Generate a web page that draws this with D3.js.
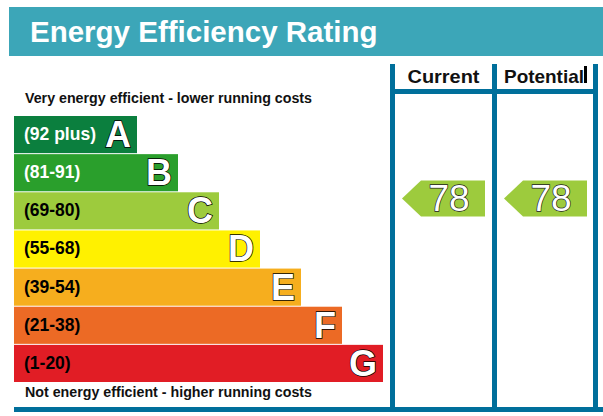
<!DOCTYPE html>
<html><head><meta charset="utf-8">
<script src="https://cdn.jsdelivr.net/npm/d3@7"></script>
<style>html,body{margin:0;padding:0;background:#fff;}svg{display:block;font-family:"Liberation Sans",Arial,sans-serif;}</style>
</head><body><svg id="c" width="603" height="416"></svg>
<script>
const bands = ["A","B","C","D","E","F","G"];
const ranges = ["(92 plus)","(81-91)","(69-80)","(55-68)","(39-54)","(21-38)","(1-20)"];
const lows = [92,81,69,55,39,21,1];
const highs = [100,91,80,68,54,38,20];
const colors = ["#0b7f3e","#2a9f2c","#9dcb3d","#fff100","#f6ae1e","#ec6a25","#e11d25"];
const labelColors = ["#fff","#fff","#000","#000","#000","#000","#000"];
const columns = ["Current","Potential"];
const ratings = [78,78];
const title = "Energy Efficiency Rating";
const topNote = "Very energy efficient - lower running costs";
const bottomNote = "Not energy efficient - higher running costs";

const svg = d3.select("#c");
const blue = "#006f9b";

// header
svg.append("rect").attr("x",9).attr("y",7).attr("width",594).attr("height",49).attr("fill","#3ca6b8");
svg.append("text").attr("x",30).attr("y",42).attr("fill","#fff").attr("font-weight","bold")
  .attr("font-size",29.5).text(title);

// band scale
const y = d3.scaleBand().domain(bands).range([116,382]).paddingInner(1/38).paddingOuter(0);
const w = d3.scaleLinear().domain([0,6]).range([123,369]);
const x0 = 14;

const rows = svg.append("g").selectAll("g").data(bands).join("g");
rows.append("rect").attr("x",x0).attr("y",d=>y(d)).attr("height",y.bandwidth())
  .attr("width",(d,i)=>w(i)).attr("fill",(d,i)=>colors[i]);
rows.append("text").attr("x",24).attr("y",d=>y(d)+24)
  .attr("font-size",17.5).attr("font-weight","bold").attr("fill",(d,i)=>labelColors[i])
  .text((d,i)=>ranges[i]);
rows.append("text").attr("x",(d,i)=>x0+w(i)-6).attr("y",d=>y(d)+31)
  .attr("text-anchor","end").attr("font-size",36).attr("font-weight","bold")
  .attr("fill","#fff").attr("stroke","#000").attr("stroke-width",1.4).attr("paint-order","stroke")
  .text(d=>d);

svg.append("text").attr("x",25).attr("y",103).attr("font-size",14).attr("font-weight","bold")
  .attr("fill","#111").attr("textLength",287).attr("lengthAdjust","spacingAndGlyphs").text(topNote);
svg.append("text").attr("x",25).attr("y",397).attr("font-size",14).attr("font-weight","bold")
  .attr("fill","#111").attr("textLength",287).attr("lengthAdjust","spacingAndGlyphs").text(bottomNote);

// grid
const lineX = [392.5, 494.5, 595.5];
lineX.forEach(x=>{
  svg.append("line").attr("x1",x).attr("x2",x).attr("y1",64).attr("y2",412)
    .attr("stroke",blue).attr("stroke-width",5);
});
svg.append("line").attr("x1",390).attr("x2",598).attr("y1",91.5).attr("y2",91.5).attr("stroke",blue).attr("stroke-width",5);
svg.append("line").attr("x1",14).attr("x2",603).attr("y1",409.5).attr("y2",409.5).attr("stroke",blue).attr("stroke-width",5);

const colCenters = [(lineX[0]+lineX[1])/2, (lineX[1]+lineX[2])/2 - 1];
const colWidths = [72, 80];
columns.forEach((c,i)=>{
  svg.append("text").attr("x",colCenters[i]).attr("y",83).attr("text-anchor","middle")
    .attr("font-size",18.5).attr("font-weight","bold").attr("fill","#111")
    .attr("textLength",colWidths[i]).attr("lengthAdjust","spacingAndGlyphs").text(c);
});
svg.append("rect").attr("x",584).attr("y",66).attr("width",3).attr("height",17).attr("fill","#000");

// rating arrows
function bandIndex(v){ return lows.findIndex((lo,j)=>v>=lo && v<=highs[j]); }
function ratingY(v){
  const i = bandIndex(v);
  return y(bands[i]) + (highs[i]-v)/(highs[i]-lows[i]+1)*y.bandwidth();
}
ratings.forEach((v,i)=>{
  const cy = ratingY(v);
  const bi = bandIndex(v);
  const left = lineX[i] + 9.5;
  const h = 36, notch = 19, bw = 83;
  const pts = [[left,cy],[left+notch,cy-h/2],[left+bw,cy-h/2],[left+bw,cy+h/2],[left+notch,cy+h/2]];
  svg.append("path").attr("d",d3.line()(pts)+"Z").attr("fill",colors[bi]);
  svg.append("text").attr("x",left+47).attr("y",cy+13).attr("text-anchor","middle")
    .attr("font-size",37).attr("fill","#fff").attr("stroke","#222").attr("stroke-width",1.4)
    .attr("paint-order","stroke").text(v);
});
</script></body></html>
